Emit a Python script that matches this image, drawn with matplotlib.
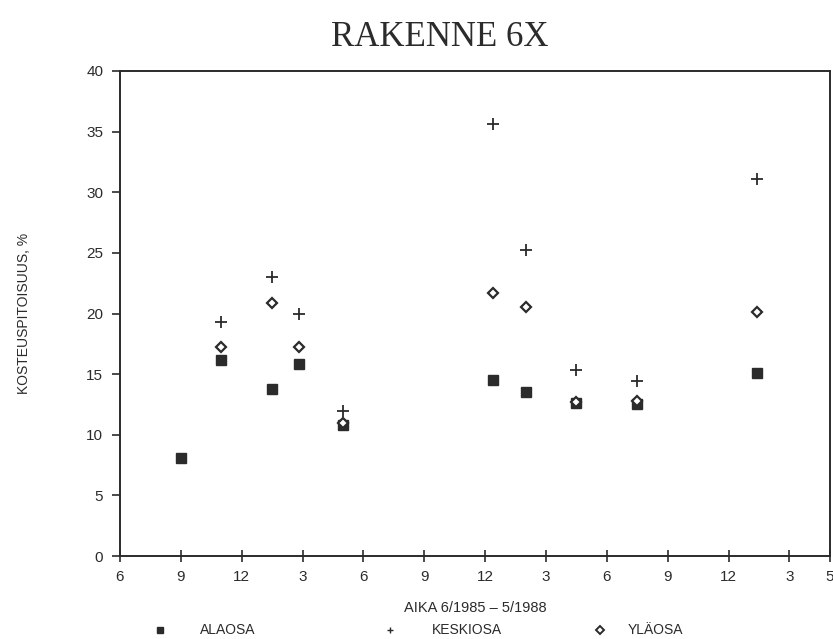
import matplotlib.pyplot as plt

# months counted from 6/1985
tick_pos = [0, 3, 6, 9, 12, 15, 18, 21, 24, 27, 30, 33, 35]
tick_labels = ['6', '9', '12', '3', '6', '9', '12', '3', '6', '9', '12', '3', '5']

ala_x = [3.0, 5.0, 7.5, 8.8, 11.0, 18.4, 20.0, 22.5, 25.5, 31.4]
ala_y = [8.1, 16.2, 13.8, 15.8, 10.8, 14.5, 13.5, 12.6, 12.5, 15.1]

keski_x = [5.0, 7.5, 8.8, 11.0, 18.4, 20.0, 22.5, 25.5, 31.4]
keski_y = [19.3, 23.0, 20.0, 12.0, 35.6, 25.2, 15.3, 14.4, 31.1]

yla_x = [5.0, 7.5, 8.8, 11.0, 18.4, 20.0, 22.5, 25.5, 31.4]
yla_y = [17.2, 20.9, 17.2, 11.0, 21.7, 20.5, 12.7, 12.8, 20.1]

labels = ['ALAOSA', 'KESKIOSA', 'YLÄOSA']

ink = '#2b2b2b'
sans = ['Liberation Sans', 'DejaVu Sans']

fig = plt.figure(figsize=(8.33, 6.39), dpi=100)
ax = fig.add_axes([120 / 833, 1 - 556 / 639, 710 / 833, 485 / 639])

ax.plot(ala_x, ala_y, 's', color=ink, markersize=6.5, linestyle='none')
ax.plot(keski_x, keski_y, '+', color=ink, markersize=8, markeredgewidth=1.3, linestyle='none')
ax.plot(yla_x, yla_y, 'D', markerfacecolor='white', markeredgecolor=ink,
        markersize=5, markeredgewidth=1.6, linestyle='none')

ax.set_xlim(0, 35)
ax.set_ylim(0, 40)
ax.set_xticks(tick_pos)
ax.set_xticklabels(tick_labels, family=sans, fontsize=11, color=ink)
ax.set_yticks(range(0, 41, 5))
ax.set_yticklabels([str(v) for v in range(0, 41, 5)], family=sans, fontsize=11, color=ink)
ax.tick_params(axis='x', direction='inout', length=8, width=1.2, color=ink, pad=6)
ax.tick_params(axis='y', direction='out', length=6, width=1.2, color=ink, pad=6)
for s in ax.spines.values():
    s.set_color(ink)
    s.set_linewidth(1.4)

ax.set_xlabel('AIKA 6/1985 – 5/1988', family=sans, fontsize=10.5, color=ink, labelpad=12)
ax.set_ylabel('KOSTEUSPITOISUUS, %', family=sans, fontsize=10, color=ink, labelpad=40)

fig.text(440 / 833, 1 - 38 / 639, 'RAKENNE 6X', ha='center', va='center',
         family=['Liberation Serif', 'DejaVu Serif'], fontsize=25, color=ink)

# legend row at the bottom
leg_y = 1 - 630 / 639
ax.plot([160 / 833], [leg_y], 's', color=ink, markersize=5, transform=fig.transFigure, clip_on=False)
ax.plot([390 / 833], [leg_y], '+', color=ink, markersize=5, transform=fig.transFigure, clip_on=False)
ax.plot([600 / 833], [leg_y], 'D', markerfacecolor='white', markeredgecolor=ink, markersize=4,
        markeredgewidth=1.4, transform=fig.transFigure, clip_on=False)
for xt, lab in zip([200, 432, 628], labels):
    fig.text(xt / 833, leg_y, lab, ha='left', va='center', family=sans, fontsize=10, color=ink)

fig.savefig('out.png', dpi=100)
